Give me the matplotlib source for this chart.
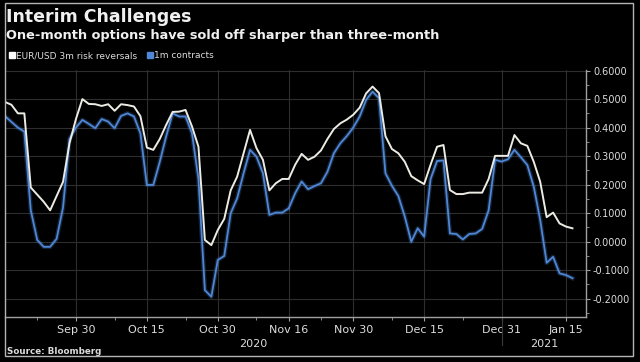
import numpy as np
import pandas as pd
import matplotlib
matplotlib.use('Agg')
import matplotlib.pyplot as plt
from matplotlib.lines import Line2D
from matplotlib.patches import Rectangle

# Business days shown on the chart (Bloomberg skips weekends and New Year's Day)
dates = pd.bdate_range('2020-09-15', '2021-01-18', freq='C', holidays=['2021-01-01'])

# EUR/USD 3m risk reversals
rr_3m = [0.49, 0.48, 0.45, 0.45, 0.19, 0.165, 0.14, 0.11, 0.16, 0.21,
         0.345, 0.43, 0.50, 0.483, 0.482, 0.476, 0.482, 0.459, 0.482, 0.479,
         0.474, 0.44, 0.33, 0.322, 0.36, 0.41, 0.455, 0.456, 0.462, 0.404,
         0.333, 0.006, -0.012, 0.041, 0.08, 0.18, 0.228, 0.31, 0.392, 0.328,
         0.287, 0.18, 0.205, 0.22, 0.22, 0.27, 0.308, 0.287, 0.298, 0.32,
         0.36, 0.395, 0.415, 0.428, 0.445, 0.47, 0.52, 0.544, 0.521, 0.37,
         0.325, 0.31, 0.28, 0.23, 0.215, 0.202, 0.27, 0.333, 0.339, 0.181,
         0.167, 0.167, 0.172, 0.172, 0.172, 0.22, 0.301, 0.301, 0.301, 0.374,
         0.345, 0.336, 0.28, 0.21, 0.086, 0.102, 0.064, 0.053, 0.047]

# 1m contracts
rr_1m = [0.44, 0.42, 0.40, 0.386, 0.11, 0.006, -0.018, -0.018, 0.01, 0.12,
         0.36, 0.40, 0.427, 0.413, 0.398, 0.43, 0.421, 0.398, 0.441, 0.45,
         0.439, 0.38, 0.199, 0.199, 0.28, 0.37, 0.45, 0.439, 0.439, 0.38,
         0.22, -0.17, -0.193, -0.064, -0.05, 0.10, 0.152, 0.24, 0.322, 0.298,
         0.24, 0.094, 0.102, 0.102, 0.117, 0.17, 0.211, 0.184, 0.195, 0.205,
         0.245, 0.31, 0.345, 0.37, 0.40, 0.439, 0.497, 0.526, 0.503, 0.24,
         0.196, 0.16, 0.088, 0.0, 0.047, 0.018, 0.22, 0.283, 0.285, 0.029,
         0.027, 0.008, 0.027, 0.029, 0.045, 0.11, 0.287, 0.281, 0.289, 0.322,
         0.296, 0.269, 0.193, 0.076, -0.074, -0.053, -0.111, -0.117, -0.128]

tick_dates = ['2020-09-30', '2020-10-15', '2020-10-30', '2020-11-16',
              '2020-11-30', '2020-12-15', '2020-12-31', '2021-01-15']
tick_labels = ['Sep 30', 'Oct 15', 'Oct 30', 'Nov 16',
               'Nov 30', 'Dec 15', 'Dec 31', 'Jan 15']
minor_dates = ['2020-09-22', '2020-10-08', '2020-10-23', '2020-11-09',
               '2020-11-23', '2020-12-08', '2020-12-23']
y_ticks = [-0.2, -0.1, 0.0, 0.1, 0.2, 0.3, 0.4, 0.5, 0.6]

bg = 'black'
white_line = '#ecebe4'
blue_line = '#4f86d6'
grid_col = '#2e2e2e'
axis_col = '#a0a0a0'
text_col = '#dcdcdc'

fig = plt.figure(figsize=(6.4, 3.62), dpi=100, facecolor=bg)
ax = fig.add_axes([5 / 640, 1 - 317 / 362, 581 / 640, 247 / 362], facecolor=bg)

x = np.arange(len(dates))
pos = {d: i for i, d in enumerate(dates)}

# blue line with a soft glow, white line on top
ax.plot(x, rr_1m, color=blue_line, lw=3.2, alpha=0.25, solid_joinstyle='round')
ax.plot(x, rr_1m, color=blue_line, lw=1.3)
ax.plot(x, rr_3m, color=white_line, lw=1.4)

ax.set_xlim(0, 90.1)
ax.set_ylim(-0.264, 0.602)

major_x = [pos[pd.Timestamp(d)] for d in tick_dates]
minor_x = [pos[pd.Timestamp(d)] for d in minor_dates]
ax.set_xticks(major_x)
ax.set_xticklabels(tick_labels)
ax.set_xticks(minor_x, minor=True)

ax.yaxis.tick_right()
ax.set_yticks(y_ticks)
ax.set_yticklabels(['{:.4f}'.format(v) for v in y_ticks])
ax.set_yticks(np.arange(-0.25, 0.6, 0.05), minor=True)

ax.grid(True, which='major', color=grid_col, lw=0.8)
ax.tick_params(axis='both', colors=axis_col, labelcolor=text_col, length=3, width=0.8)
ax.tick_params(axis='x', labelsize=8, pad=3)
ax.tick_params(axis='y', labelsize=7, pad=2)
ax.tick_params(which='minor', colors=axis_col, length=2, width=0.6)

for side in ['top', 'left']:
    ax.spines[side].set_visible(False)
for side in ['right', 'bottom']:
    ax.spines[side].set_color(axis_col)
    ax.spines[side].set_linewidth(1.0)

# year labels under the date ticks, with a divider at the year change
split = pos[pd.Timestamp('2020-12-31')]
ax.plot([split, split], [0, -0.115], transform=ax.get_xaxis_transform(),
        color='#3a3a3a', lw=0.8, clip_on=False)
ax.text(split / 2, -0.09, '2020', transform=ax.get_xaxis_transform(),
        ha='center', va='top', fontsize=8, color=text_col)
ax.text((split + 90.1) / 2, -0.09, '2021', transform=ax.get_xaxis_transform(),
        ha='center', va='top', fontsize=8, color=text_col)

# legend with square markers
handles = [Line2D([], [], marker='s', ls='', color='white', markersize=4.5),
           Line2D([], [], marker='s', ls='', color=blue_line, markersize=4.5)]
fig.legend(handles, ['EUR/USD 3m risk reversals', '1m contracts'],
           loc='center left', bbox_to_anchor=(9 / 640, 1 - 56 / 362), ncol=2,
           frameon=False, fontsize=6.5, labelcolor=text_col, handlelength=0.6,
           handletextpad=0.15, columnspacing=1.1, borderpad=0, borderaxespad=0)

# titles and source
fig.text(6 / 640, 1 - 17 / 362, 'Interim Challenges', fontsize=12.5,
         fontweight='bold', color='#f0f0f0', va='center', ha='left')
fig.text(6 / 640, 1 - 35 / 362,
         'One-month options have sold off sharper than three-month',
         fontsize=9.3, fontweight='bold', color='#f0f0f0', va='center', ha='left')
fig.text(7 / 640, 1 - 352 / 362, 'Source: Bloomberg', fontsize=6.3,
         fontweight='bold', color=text_col, va='center', ha='left')

# outer frame
fig.patches.append(Rectangle((5 / 640, 6 / 362), 628 / 640, 353 / 362,
                             transform=fig.transFigure, fill=False,
                             edgecolor='#b4b4b4', lw=1.0))

fig.savefig('out.png', dpi=100, facecolor=bg)
